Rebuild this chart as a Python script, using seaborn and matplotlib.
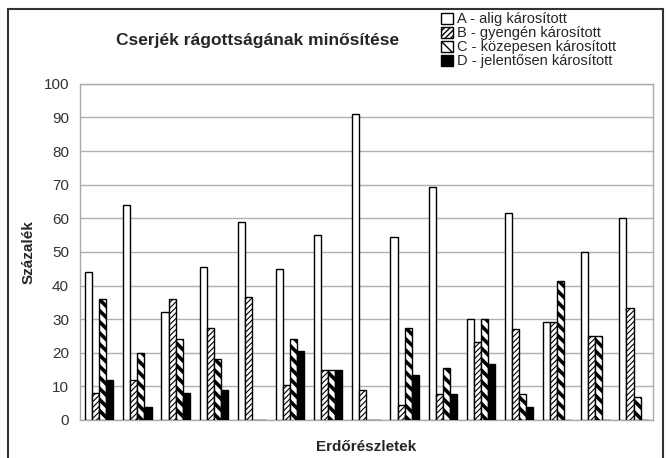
import matplotlib
matplotlib.use("Agg")
import matplotlib.pyplot as plt
import seaborn as sns
import pandas as pd
import numpy as np
from matplotlib.patches import Rectangle

# Adatok (leolvasva az ábráról)
reszletek = [str(i) for i in range(1, 16)]
kategoriak = ["A - alig károsított", "B - gyengén károsított",
              "C - közepesen károsított", "D - jelentősen károsított"]
A = [44, 64, 32, 45.5, 59, 45, 55, 91, 54.5, 69.3, 30, 61.5, 29, 50, 60]
B = [8, 12, 36, 27.5, 36.5, 10.5, 15, 9, 4.5, 7.7, 23.3, 27, 29, 25, 33.4]
C = [36, 20, 24, 18, 0, 24, 15, 0, 27.4, 15.4, 30, 7.7, 41.4, 25, 6.7]
D = [12, 4, 8, 9, 0, 20.5, 15, 0, 13.4, 7.7, 16.6, 3.9, 0, 0, 0]

df = pd.DataFrame({"Erdőrészlet": reszletek * 4,
                   "Kategória": np.repeat(kategoriak, len(reszletek)),
                   "Százalék": A + B + C + D})

sns.set_style("white")
plt.rcParams["font.family"] = ["Liberation Sans", "DejaVu Sans"]
plt.rcParams["hatch.color"] = "black"

fig = plt.figure(figsize=(6.68, 4.58), dpi=100)
ax = fig.add_axes([0.12, 0.083, 0.857, 0.734])

sns.barplot(data=df, x="Erdőrészlet", y="Százalék", hue="Kategória",
            width=0.74, ax=ax, legend=False, zorder=3)

keszlet = [("white", "", 1.0), ("white", "//////", 0.8),
           ("white", "\\\\\\", 2.6), ("black", "", 1.0)]
for cont, (fc, h, hw) in zip(ax.containers, keszlet):
    for bar in cont:
        bar.set_facecolor(fc)
        bar.set_edgecolor("black")
        bar.set_linewidth(1.0)
        bar.set_hatch(h)
        if hasattr(bar, "set_hatch_linewidth"):
            bar.set_hatch_linewidth(hw)

ax.set_ylim(0, 100)
ax.set_yticks(range(0, 101, 10))
ax.set_xlim(-0.5, len(reszletek) - 0.5)
ax.set_xticks([])
ax.set_xticks(np.arange(-0.5, len(reszletek), 1), minor=True)
ax.tick_params(axis="x", which="minor", length=3, color="#999999")
ax.tick_params(axis="y", length=4, color="#999999", labelsize=11,
               labelcolor="#333333", pad=4)
ax.grid(axis="y", color="#b0b0b0", linewidth=1.0, zorder=0)
for s in ax.spines.values():
    s.set_color("#aaaaaa")
    s.set_linewidth(1.0)

ax.set_xlabel("Erdőrészletek", fontsize=11, fontweight="bold", labelpad=8)
ax.set_ylabel("Százalék", fontsize=11, fontweight="bold", labelpad=6)

fig.text(0.385, 0.912, "Cserjék rágottságának minősítése", ha="center",
         va="center", fontsize=12.5, fontweight="bold")

# Jelmagyarázat
kezek = [Rectangle((0, 0), 1, 1, facecolor=fc, edgecolor="black", hatch=h)
         for fc, h, _ in keszlet]
fig.legend(kezek, kategoriak, loc="upper left", bbox_to_anchor=(0.645, 0.995),
           frameon=False, fontsize=10.5, handlelength=0.8, handleheight=0.8,
           handletextpad=0.3, labelspacing=0.0, borderaxespad=0.3)

# Keret
fig.patches.append(Rectangle((0.012, -0.05), 0.98, 1.03, transform=fig.transFigure,
                             fill=False, edgecolor="#333333", linewidth=1.5))

fig.savefig("out.png", dpi=100)
